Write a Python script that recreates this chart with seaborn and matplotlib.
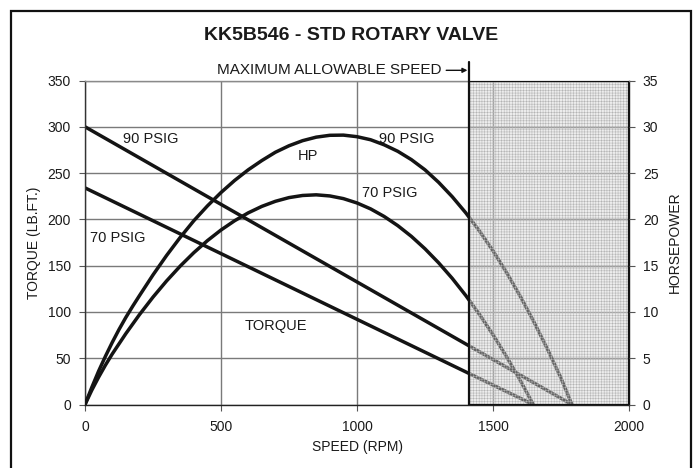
import matplotlib
matplotlib.use("Agg")
import matplotlib.pyplot as plt
import seaborn as sns
from matplotlib.patches import Rectangle

# Chart text
title = "KK5B546 - STD ROTARY VALVE"
x_label = "SPEED (RPM)"
torque_label = "TORQUE (LB.FT.)"
hp_label = "HORSEPOWER"
limit_label = "MAXIMUM ALLOWABLE SPEED"

# Axis ticks
speed_ticks = [0, 500, 1000, 1500, 2000]
torque_ticks = [0, 50, 100, 150, 200, 250, 300, 350]
hp_ticks = [0, 5, 10, 15, 20, 25, 30, 35]

# Maximum allowable speed (RPM)
max_speed = 1410

# Torque (lb.ft.) vs speed (RPM)
torque90_rpm = [0, 1790]
torque90 = [300, 0]
torque70_rpm = [0, 1648]
torque70 = [234, 0]

# Horsepower vs speed (RPM), 90 PSIG
hp90_rpm = [0, 25, 50, 75, 100, 125, 150, 175, 200, 250, 300, 350, 400,
            450, 500, 550, 600, 650, 700, 750, 800, 850, 900, 950, 1000,
            1050, 1100, 1150, 1200, 1250, 1300, 1350, 1400, 1450, 1500,
            1550, 1600, 1650, 1700, 1750, 1790]
hp90 = [0, 1.85, 3.6, 5.2, 6.7, 8.1, 9.4, 10.6, 11.75, 14.0, 16.1, 18.05,
        19.85, 21.45, 22.9, 24.2, 25.35, 26.35, 27.25, 27.95, 28.5, 28.88,
        29.08, 29.1, 28.93, 28.6, 28.05, 27.35, 26.45, 25.35, 24.0, 22.45,
        20.7, 18.75, 16.6, 14.25, 11.7, 8.95, 6.0, 2.85, 0]

# Horsepower vs speed (RPM), 70 PSIG
hp70_rpm = [0, 25, 50, 75, 100, 150, 200, 250, 300, 350, 400, 450, 500,
            550, 600, 650, 700, 750, 800, 850, 900, 950, 1000, 1050, 1100,
            1150, 1200, 1250, 1300, 1350, 1400, 1450, 1500, 1550, 1600, 1648]
hp70 = [0, 1.55, 2.95, 4.25, 5.45, 7.65, 9.7, 11.6, 13.35, 14.95, 16.4,
        17.7, 18.85, 19.85, 20.7, 21.4, 21.95, 22.35, 22.58, 22.65, 22.53,
        22.24, 21.77, 21.13, 20.31, 19.32, 18.16, 16.82, 15.31, 13.63,
        11.77, 9.74, 7.54, 5.16, 2.61, 0]

sns.set_theme(style="white")
plt.rcParams["font.family"] = ["Liberation Sans", "DejaVu Sans"]
plt.rcParams["hatch.linewidth"] = 0.35

W, H = 698, 468
fig = plt.figure(figsize=(W / 100, H / 100), dpi=100)
ax = fig.add_axes([85 / W, 1 - 404.5 / H, 544 / W, 324 / H])

line_kw = dict(color="#141414", linewidth=2.5)
sns.lineplot(x=torque90_rpm, y=torque90, ax=ax, **line_kw)
sns.lineplot(x=torque70_rpm, y=torque70, ax=ax, **line_kw)

ax.set_xlim(0, 2000)
ax.set_ylim(0, 350)
ax.set_xticks(speed_ticks)
ax.set_yticks(torque_ticks)
ax.grid(True, color="#7a7a7a", linewidth=1.0)
ax.set_axisbelow(True)
ax.tick_params(axis="both", direction="out", length=4, width=0.8,
               color="#555555", labelsize=10, labelcolor="#1a1a1a",
               bottom=True, left=True)
ax.tick_params(axis="x", pad=7)
ax.tick_params(axis="y", pad=6)
ax.spines["left"].set_color("#333333")
ax.spines["bottom"].set_color("#222222")
ax.spines["top"].set_color("#8a8a8a")
ax.spines["right"].set_color("#111111")
for s in ax.spines.values():
    s.set_linewidth(1.0)

ax2 = ax.twinx()
sns.lineplot(x=hp90_rpm, y=hp90, ax=ax2, **line_kw)
sns.lineplot(x=hp70_rpm, y=hp70, ax=ax2, **line_kw)
ax2.set_ylim(0, 35)
ax2.set_yticks(hp_ticks)
ax2.grid(False)
ax2.tick_params(axis="y", direction="out", length=4, width=0.8,
                color="#555555", labelsize=10, labelcolor="#1a1a1a",
                right=True, pad=6)
ax2.set_ylabel("")
ax.set_ylabel("")
ax.set_xlabel("")
for s in ax2.spines.values():
    s.set_visible(False)

# Shaded region beyond the maximum allowable speed
ax2.add_patch(Rectangle((max_speed, 0), 2000 - max_speed, 35,
                        facecolor=(0.83, 0.83, 0.83, 0.42),
                        edgecolor=(0.70, 0.70, 0.70, 1.0), linewidth=0,
                        hatch="++++++", zorder=5))
ax2.add_patch(Rectangle((max_speed, 0), 2000 - max_speed, 35,
                        fill=False, edgecolor="#111111", linewidth=1.6,
                        zorder=6))
ax2.plot([max_speed, max_speed], [35, 37.0], color="#111111",
         linewidth=1.6, clip_on=False, zorder=6)

# Limit label with arrow
ax.text(1312, 361, limit_label, ha="right", va="center", fontsize=11,
        color="#1a1a1a", clip_on=False)
ax.annotate("", xy=(max_speed - 4, 361), xytext=(1328, 361),
            arrowprops=dict(arrowstyle="-|>", color="#111111", lw=1.0,
                            mutation_scale=7, shrinkA=0, shrinkB=0),
            annotation_clip=False)

# Curve labels
label_kw = dict(fontsize=10.5, color="#1a1a1a", va="center", ha="left")
ax.text(140, 286.6, "90 PSIG", **label_kw)
ax.text(783, 268.4, "HP", **label_kw)
ax.text(18, 180.3, "70 PSIG", **label_kw)
ax.text(1081, 286.7, "90 PSIG", **label_kw)
ax.text(1018, 229, "70 PSIG", **label_kw)
ax.text(588, 84.8, "TORQUE", **label_kw)

# Titles and axis labels
fig.text(351 / W, 1 - 35 / H, title, ha="center", va="center",
         fontsize=14, fontweight="bold", color="#1a1a1a")
fig.text(357 / W, 1 - 447 / H, x_label, ha="center", va="center",
         fontsize=10, color="#1a1a1a")
fig.text(34 / W, 1 - 242.5 / H, torque_label, ha="center", va="center",
         rotation=90, fontsize=10, color="#1a1a1a")
fig.text(675 / W, 1 - 242.5 / H, hp_label, ha="center", va="center",
         rotation=90, fontsize=10, color="#1a1a1a")

# Frame around the figure
fig.add_artist(Rectangle((11.5 / W, -0.05), (690.5 - 11.5) / W,
                         1.05 - 11.5 / H, transform=fig.transFigure,
                         fill=False, edgecolor="#111111", linewidth=1.6))

fig.savefig("out.png", dpi=100)
